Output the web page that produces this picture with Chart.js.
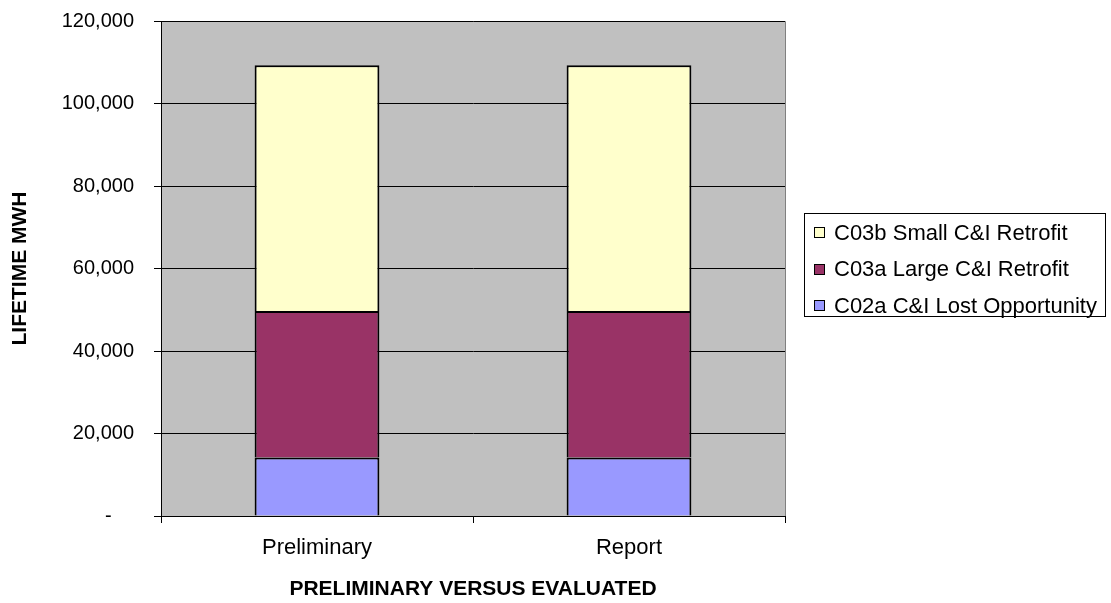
<!DOCTYPE html>
<html>
<head>
<meta charset="utf-8">
<script src="https://cdn.jsdelivr.net/npm/chart.js@4.4.1/dist/chart.umd.min.js"></script>
<style>
  body { margin: 0; background: #ffffff; }
  #wrap { width: 1111px; height: 603px; }
</style>
</head>
<body>
<div id="wrap"><canvas id="chart" width="1111" height="603"></canvas></div>
<script>
const categories = ["Preliminary", "Report"];
const seriesNames = ["C02a C&I Lost Opportunity", "C03a Large C&I Retrofit", "C03b Small C&I Retrofit"];
const lostOpportunity = [14200, 14200];
const largeRetrofit = [35500, 35500];
const smallRetrofit = [59600, 59600];
const seriesColors = ["#9999FF", "#993366", "#FFFFCC"];
const yTicks = [0, 20000, 40000, 60000, 80000, 100000, 120000];

const FONT = "'Liberation Sans', Arial, sans-serif";

// gray plot background plus the thin border on top/right
const plotBackground = {
    id: 'plotBackground',
    beforeDraw(chart) {
        const { ctx, chartArea: a } = chart;
        ctx.save();
        ctx.fillStyle = '#C0C0C0';
        ctx.fillRect(a.left, a.top, a.right - a.left, a.bottom - a.top);
        ctx.strokeStyle = '#808080';
        ctx.lineWidth = 1;
        ctx.beginPath();
        ctx.moveTo(Math.round(a.left) + 0.5, Math.round(a.top) + 0.5);
        ctx.lineTo(Math.round(a.right) + 0.5, Math.round(a.top) + 0.5);
        ctx.lineTo(Math.round(a.right) + 0.5, Math.round(a.bottom) + 0.5);
        ctx.stroke();
        ctx.restore();
    }
};

// boxed legend on the right, top series first
const boxLegend = {
    id: 'boxLegend',
    afterDraw(chart) {
        const ctx = chart.ctx;
        const x = 804, y = 213, w = 301, h = 103;
        ctx.save();
        ctx.fillStyle = '#ffffff';
        ctx.fillRect(x, y, w, h);
        ctx.strokeStyle = '#000000';
        ctx.lineWidth = 1;
        ctx.strokeRect(x + 0.5, y + 0.5, w, h);
        ctx.font = '22px ' + FONT;
        ctx.textBaseline = 'middle';
        const sets = chart.data.datasets.slice().reverse();
        sets.forEach((ds, i) => {
            const cy = y + 19.5 + i * 36.5;
            ctx.fillStyle = ds.backgroundColor;
            ctx.fillRect(814, Math.round(cy - 5.5), 11, 11);
            ctx.strokeStyle = '#000000';
            ctx.strokeRect(814.5, Math.round(cy - 5.5) + 0.5, 10, 10);
            ctx.fillStyle = '#000000';
            ctx.fillText(ds.label, 834, cy + 1);
        });
        ctx.restore();
    }
};

const dataValues = [lostOpportunity, largeRetrofit, smallRetrofit];

new Chart(document.getElementById('chart'), {
    type: 'bar',
    data: {
        labels: categories,
        datasets: seriesNames.map((name, i) => ({
            label: name,
            data: dataValues[i],
            backgroundColor: seriesColors[i],
            borderColor: '#000000',
            borderWidth: 2,
            categoryPercentage: 1,
            barPercentage: 0.4,
        }))
    },
    options: {
        responsive: false,
        animation: false,
        layout: { padding: { top: 21, right: 326, left: 0, bottom: 0 } },
        plugins: {
            legend: { display: false },
            tooltip: { enabled: false },
        },
        scales: {
            x: {
                stacked: true,
                afterFit(scale) {
                    scale.height = 87;
                    scale.paddingLeft = 0;
                    scale.paddingRight = 0;
                },
                grid: { display: true, drawOnChartArea: false, tickLength: 7, color: '#000000', offset: true },
                border: { display: true, color: '#000000', width: 1 },
                ticks: { color: '#000000', font: { family: FONT, size: 22 }, padding: 12 },
                title: {
                    display: true,
                    text: 'PRELIMINARY VERSUS EVALUATED',
                    color: '#000000',
                    font: { family: FONT, size: 21, weight: 'bold' },
                    padding: { top: 0, bottom: 1 },
                },
            },
            y: {
                stacked: true,
                min: 0,
                max: 120000,
                afterFit(scale) {
                    scale.width = 161;
                    scale.paddingTop = 0;
                    scale.paddingBottom = 0;
                },
                afterBuildTicks(scale) { scale.ticks = yTicks.map(v => ({ value: v })); },
                grid: { color: '#000000', lineWidth: 1, tickLength: 7 },
                border: { display: true, color: '#000000', width: 1 },
                ticks: {
                    color: '#000000',
                    font: { family: FONT, size: 20 },
                    padding: 20,
                    callback: v => v === 0 ? '-    ' : v.toLocaleString('en-US'),
                },
                title: {
                    display: true,
                    text: 'LIFETIME MWH',
                    color: '#000000',
                    font: { family: FONT, size: 21, weight: 'bold' },
                    padding: { top: 8, bottom: 0 },
                },
            },
        },
    },
    plugins: [plotBackground, boxLegend],
});
</script>
</body>
</html>
